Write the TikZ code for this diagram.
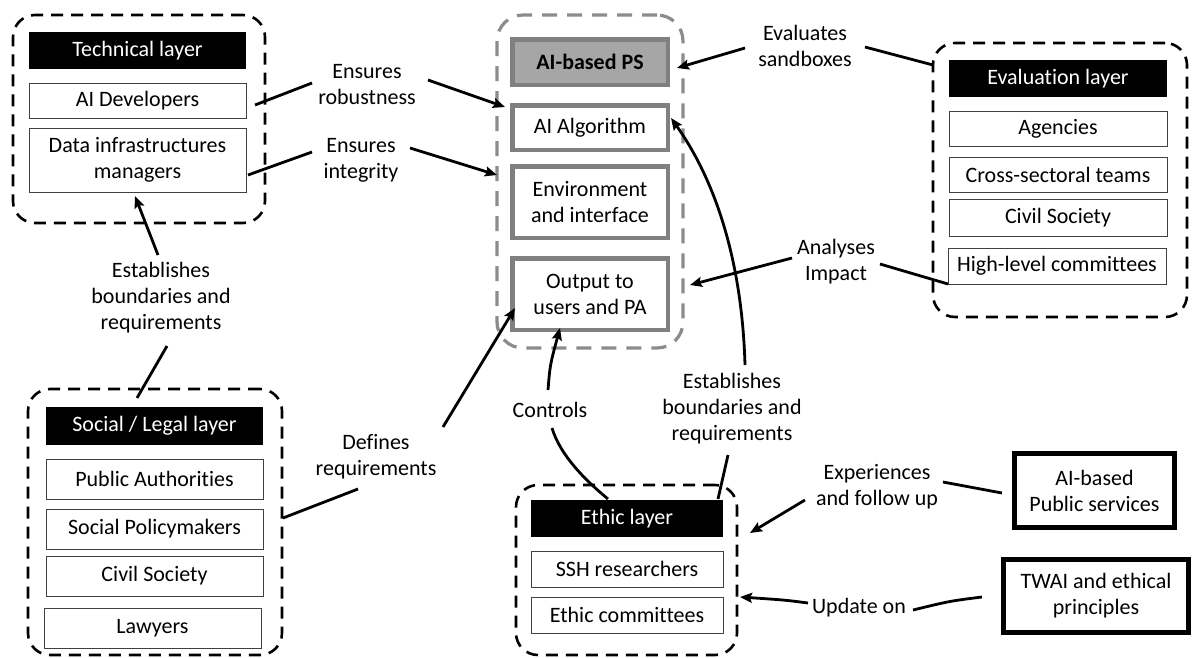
\documentclass[tikz,border=0pt]{standalone}
\usepackage{fontspec}
\setmainfont{Carlito}[Ligatures={NoCommon}]
\usetikzlibrary{arrows.meta}
\definecolor{boxgray}{HTML}{808080}
\definecolor{psfill}{HTML}{A6A6A6}
\definecolor{dashgray}{HTML}{8C8C8C}
\definecolor{thinline}{HTML}{404040}
\begin{document}
\begin{tikzpicture}[x=1pt,y=-1pt,
  every node/.style={font=\fontsize{22}{26}\selectfont, inner sep=0pt, outer sep=0pt, align=center},
  grp/.style={draw, line width=2.6pt, dash pattern=on 12pt off 8pt, rounded corners=22pt},
  cgrp/.style={draw=dashgray, line width=3.2pt, dash pattern=on 15pt off 10pt, rounded corners=26pt},
  hdr/.style={fill=black, text=white, minimum width=217pt, minimum height=37pt},
  wbox/.style={draw=thinline, line width=0.9pt, fill=white, minimum width=217pt},
  psbox/.style={draw=boxgray, line width=4.5pt, fill=white, minimum width=155.5pt},
  bigbox/.style={draw, line width=5pt, fill=white},
  conn/.style={line width=2.8pt},
  arr/.style={line width=2.8pt, -{Stealth[length=12pt,width=10pt,inset=2pt]}}
]
\fill[white] (0,0) rectangle (1192,657);
\useasboundingbox (0,0) rectangle (1192,657);

% ---- groups
\node[grp, minimum width=252pt, minimum height=208pt] (tech) at (139,119) {};
\node[cgrp, minimum width=186pt, minimum height=333pt] (ps) at (590,181.5) {};
\node[grp, minimum width=254pt, minimum height=274pt] (evalg) at (1060,180) {};
\node[grp, minimum width=254pt, minimum height=266pt] (socg) at (155,522) {};
\node[grp, minimum width=221pt, minimum height=170pt] (ethg) at (626.5,570) {};

% ---- technical layer
\node[hdr] (techhdr) at (137.5,50.5) {Technical layer};
\node[wbox, minimum height=35pt] (aidev) at (137.5,100.5) {AI Developers};
\node[wbox, minimum height=64pt] (datainfra) at (137.5,160) {Data infrastructures\\managers};

% ---- AI-based PS
\node[psbox, fill=psfill, minimum height=45.5pt] (psh) at (590,62) {\textbf{AI-based PS}};
\node[psbox, minimum height=44.5pt] (algo) at (590,127.5) {AI Algorithm};
\node[psbox, minimum height=71.5pt] (env) at (590,202) {Environment\\and interface};
\node[psbox, minimum height=71.5pt] (out) at (590,294) {Output to\\users and PA};

% ---- evaluation layer
\node[hdr, minimum width=218pt] (evalhdr) at (1058,78.5) {Evaluation layer};
\node[wbox, minimum width=218pt, minimum height=35pt] (agen) at (1058,128.5) {Agencies};
\node[wbox, minimum width=218pt, minimum height=35pt] (cross) at (1058,174.5) {Cross-sectoral teams};
\node[wbox, minimum width=218pt, minimum height=37pt] (civa) at (1058,217.5) {Civil Society};
\node[wbox, minimum width=218pt, minimum height=36pt] (high) at (1057,266) {High-level committees};

% ---- social / legal layer
\node[hdr, minimum height=38pt] (sochdr) at (154.5,426) {Social / Legal layer};
\node[wbox, minimum height=40pt] (pubauth) at (154.5,479) {Public Authorities};
\node[wbox, minimum height=40pt] (socpol) at (154.5,529) {Social Policymakers};
\node[wbox, minimum height=40pt] (civb) at (154.5,576) {Civil Society};
\node[wbox, minimum height=40pt] (lawyers) at (152.5,628) {Lawyers};

% ---- ethic layer
\node[hdr, minimum width=192pt] (ethhdr) at (627,518.5) {Ethic layer};
\node[wbox, minimum width=192pt, minimum height=36pt] (ssh) at (627,569) {SSH researchers};
\node[wbox, minimum width=192pt, minimum height=36pt] (ethcom) at (627,615) {Ethic committees};

% ---- external boxes
\node[bigbox, minimum width=160pt, minimum height=74pt] (aips) at (1094.5,490.5) {AI-based\\Public services};
\node[bigbox, minimum width=185pt, minimum height=73pt] (twai) at (1096,596) {TWAI and ethical\\principles};

% ---- labels
\node (lrob) at (367,85) {Ensures\\robustness};
\node (lint) at (361,160) {Ensures\\integrity};
\node (leval) at (805,46) {Evaluates\\sandboxes};
\node (lana) at (836,262) {Analyses\\Impact};
\node (lest1) at (161,298) {Establishes\\boundaries and\\requirements};
\node (ldef) at (376,457) {Defines\\requirements};
\node (lctrl) at (550,410) {Controls};
\node (lest2) at (732,409) {Establishes\\boundaries and\\requirements};
\node (lexp) at (877,487) {Experiences\\and follow up};
\node (lupd) at (859,608) {Update on};

% ---- connector end points
\coordinate (r1) at (255,105); \coordinate (r2) at (312,83);
\coordinate (r3) at (428,80);  \coordinate (r4) at (505,107);
\coordinate (i1) at (248,175); \coordinate (i2) at (312,152);
\coordinate (i3) at (410,148); \coordinate (i4) at (497,175);
\coordinate (e1) at (933,65);  \coordinate (e2) at (865,47);
\coordinate (e3) at (745,48);  \coordinate (e4) at (677,68);
\coordinate (a1) at (948,284); \coordinate (a2) at (880,264);
\coordinate (a3) at (792,258); \coordinate (a4) at (690,285);
\coordinate (s1) at (158,255); \coordinate (s2) at (135,196);
\coordinate (s3) at (167,346); \coordinate (s4) at (137,398);
\coordinate (d1) at (283,518); \coordinate (d2) at (358,489);
\coordinate (d3) at (443,427); \coordinate (d4) at (515,308);
\coordinate (c1) at (608,499); \coordinate (c2) at (552,428);
\coordinate (c3) at (548,390); \coordinate (c4) at (560,328);
\coordinate (b1) at (718,499); \coordinate (b2) at (728,455);
\coordinate (b3) at (745,365); \coordinate (b4) at (671,118);
\coordinate (x1) at (1002,493); \coordinate (x2) at (943,482);
\coordinate (x3) at (805,500); \coordinate (x4) at (750,533);
\coordinate (u1) at (982,597); \coordinate (u2) at (913,610);
\coordinate (u3) at (808,603); \coordinate (u4) at (740,597);

% ---- connectors
\draw[conn] (r1) -- (r2);  \draw[arr] (r3) -- (r4);
\draw[conn] (i1) -- (i2);  \draw[arr] (i3) -- (i4);
\draw[conn] (e1) -- (e2);  \draw[arr] (e3) -- (e4);
\draw[conn] (a1) -- (a2);  \draw[arr] (a3) -- (a4);
\draw[arr] (s1) -- (s2);   \draw[conn] (s3) -- (s4);
\draw[conn] (d1) -- (d2);  \draw[arr] (d3) -- (d4);
\draw[conn] (c1) .. controls (585,480) and (560,455) .. (c2);
\draw[arr] (c3) .. controls (550,365) .. (c4);
\draw[conn] (b1) -- (b2);
\draw[arr] (b3) .. controls (742,260) and (715,180) .. (b4);
\draw[conn] (x1) -- (x2);  \draw[arr] (x3) -- (x4);
\draw[conn] (u1) .. controls (950,601) .. (u2);
\draw[arr] (u3) .. controls (785,600) .. (u4);
\end{tikzpicture}
\end{document}
